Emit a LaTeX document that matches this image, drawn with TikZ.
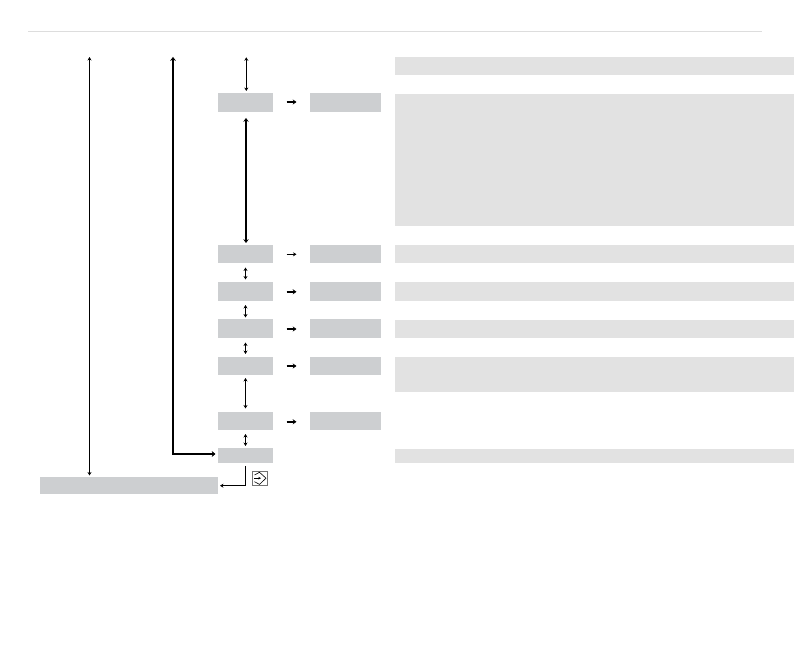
\documentclass[tikz,border=0pt]{standalone}
\usetikzlibrary{arrows.meta,positioning}
\def\px{0.75pt}
\definecolor{boxgray}{HTML}{CDCFD1}
\definecolor{panelgray}{HTML}{E2E2E2}
\definecolor{rulegray}{HTML}{DDDDDD}
\tikzset{
  base/.style={inner sep=0pt,outer sep=0pt,draw=none,rectangle,anchor=north west},
  box/.style={base,fill=boxgray},
  panel/.style={base,fill=panelgray},
  sz/.style 2 args={minimum width=#1*\px,minimum height=#2*\px},
  thinlink/.style={draw=black,line width=0.75pt,{Stealth[length=2.6pt,width=3pt]}-{Stealth[length=2.6pt,width=3pt]}},
  thicklink/.style={draw=black,line width=1.55pt,{Stealth[length=2.8pt,width=4pt]}-{Stealth[length=2.8pt,width=4pt]}},
  heavylink/.style={draw=black,line width=1.8pt,line join=miter,{Stealth[length=2.8pt,width=4.4pt]}-{Stealth[length=2.8pt,width=4.4pt]}},
  onethin/.style={draw=black,line width=0.8pt,-{Stealth[length=2.6pt,width=3pt]}},
  onethick/.style={draw=black,line width=1.5pt,-{Stealth[length=2.8pt,width=3.8pt]}},
}
\begin{document}
\begin{tikzpicture}[x=\px,y=-\px]
\useasboundingbox (0,0) rectangle (794,652);
\coordinate (ruleL) at (28,31.5);
\coordinate (ruleR) at (762,31.5);
\draw[rulegray,line width=0.75pt] (ruleL) -- (ruleR);
% left column boxes
\node[box,sz={55.5}{18.5}] (a1) at (217.8,93.4) {};
\node[box,sz={55.5}{18.5}] (a2) at (217.8,245) {};
\node[box,sz={55.5}{18.5}] (a3) at (217.8,282.5) {};
\node[box,sz={55.5}{18.5}] (a4) at (217.8,319.5) {};
\node[box,sz={55.5}{18.5}] (a5) at (217.8,356.7) {};
\node[box,sz={55.5}{18.5}] (a6) at (217.8,411.6) {};
\node[box,sz={55.5}{15}] (a7) at (217.8,448) {};
\node[box,sz={178}{17}] (bot) at (40,477) {};
% second column
\node[box,sz={71}{18.5}] (b1) at (310,93.4) {};
\node[box,sz={71}{18.5}] (b2) at (310,245) {};
\node[box,sz={71}{18.5}] (b3) at (310,282.5) {};
\node[box,sz={71}{18.5}] (b4) at (310,319.5) {};
\node[box,sz={71}{18.5}] (b5) at (310,356.7) {};
\node[box,sz={71}{18.5}] (b6) at (310,411.6) {};
% panels
\node[panel,sz={399}{18}] (p0) at (395,56.7) {};
\node[panel,sz={399}{132.5}] (p1) at (395,93.7) {};
\node[panel,sz={399}{18}] (p2) at (395,245.3) {};
\node[panel,sz={399}{18.3}] (p3) at (395,282.5) {};
\node[panel,sz={399}{18.3}] (p4) at (395,319.7) {};
\node[panel,sz={399}{35.2}] (p5) at (395,357) {};
\node[panel,sz={399}{14}] (p7) at (395,448.7) {};
% free ends
\coordinate (t1) at (89.5,57);
\coordinate (t1b) at (89.5,475.5);
\coordinate (t2) at (173,57);
\coordinate (t2c) at (173,454);
\coordinate (t2e) at (215.5,454);
\coordinate (t3) at (246.3,57.3);
\coordinate (t3b) at (246.3,91);
\coordinate (v1) at (246,118);
\coordinate (v1b) at (246,243);
\coordinate (v2) at (245.5,267.5);
\coordinate (v2b) at (245.5,279.5);
\coordinate (v3) at (245.5,305);
\coordinate (v3b) at (245.5,317.5);
\coordinate (v4) at (245.5,342.5);
\coordinate (v4b) at (245.5,354);
\coordinate (v5) at (245.5,378);
\coordinate (v5b) at (245.5,408.5);
\coordinate (v6) at (245.5,434);
\coordinate (v6b) at (245.5,446);
\coordinate (d1) at (245.5,466);
\coordinate (d2) at (245.5,485.7);
\coordinate (d3) at (220,485.7);
\draw[thinlink] (t1) -- (t1b);
\draw[heavylink] (t2) -- (t2c) -- (t2e);
\draw[thinlink] (t3) -- (t3b);
\draw[thicklink] (v1) -- (v1b);
\draw[thinlink] (v2) -- (v2b);
\draw[thinlink] (v3) -- (v3b);
\draw[thinlink] (v4) -- (v4b);
\draw[thinlink] (v5) -- (v5b);
\draw[thinlink] (v6) -- (v6b);
\draw[onethin,line join=miter] (d1) -- (d2) -- (d3);
% horizontal arrows
\coordinate (h1) at (286.7,102);
\coordinate (h1e) at (296.5,102);
\coordinate (h2) at (286.7,254.3);
\coordinate (h2e) at (296.5,254.3);
\coordinate (h3) at (286.7,291.8);
\coordinate (h3e) at (296.5,291.8);
\coordinate (h4) at (286.7,329);
\coordinate (h4e) at (296.5,329);
\coordinate (h5) at (286.7,366);
\coordinate (h5e) at (296.5,366);
\coordinate (h6) at (286.7,421.8);
\coordinate (h6e) at (296.5,421.8);
\draw[onethick] (h1) -- (h1e);
\draw[onethin] (h2) -- (h2e);
\draw[onethick] (h3) -- (h3e);
\draw[onethick] (h4) -- (h4e);
\draw[onethick] (h5) -- (h5e);
\draw[onethick] (h6) -- (h6e);
% icon
\node[base,draw=black!55,line width=0.6pt,fill=white,sz={15}{14.5}] (icon) at (252.5,471) {};
\draw[black,line width=0.45pt] (254.5,475) -- (259.5,472.3) -- (266,478.2) -- (259.5,484.4) -- (254.5,481.7);
\draw[black,line width=0.5pt,-{Stealth[length=2pt,width=2pt]}] (254,478.2) -- (261,478.2);
\end{tikzpicture}
\end{document}
